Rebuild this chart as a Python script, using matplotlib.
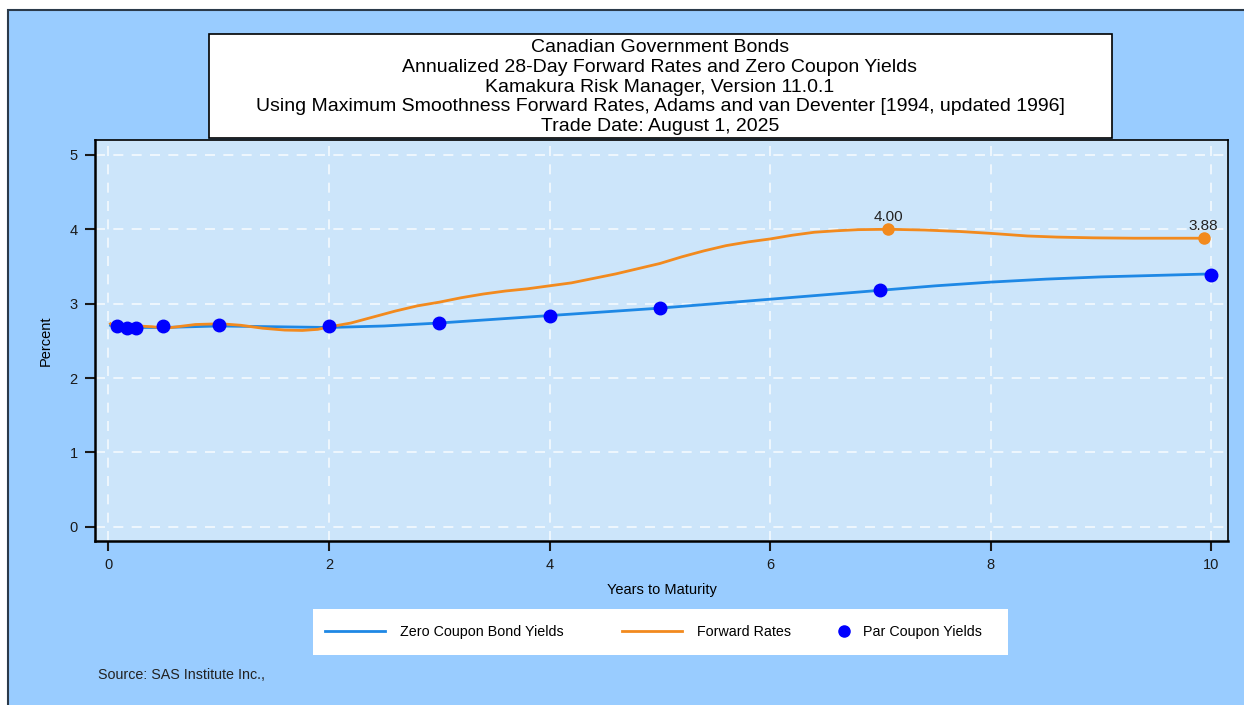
import matplotlib.pyplot as plt
from matplotlib.patches import Rectangle
from matplotlib.lines import Line2D

plt.rcParams['font.family'] = ['Liberation Sans', 'DejaVu Sans']

# values
zero_t = [0.02, 0.1, 0.25, 0.5, 0.75, 1.0, 1.5, 2.0, 2.5, 3.0, 3.5, 4.0, 4.5,
          5.0, 5.5, 6.0, 6.5, 7.0, 7.5, 8.0, 8.5, 9.0, 9.5, 10.0]
zero_y = [2.71, 2.69, 2.68, 2.68, 2.69, 2.70, 2.69, 2.68, 2.70, 2.74, 2.79, 2.84, 2.89,
          2.94, 3.00, 3.06, 3.12, 3.18, 3.24, 3.29, 3.33, 3.36, 3.38, 3.40]

fwd_t = [0.02, 0.06, 0.09, 0.15, 0.27, 0.4, 0.52, 0.79, 1.02, 1.2, 1.4, 1.6, 1.76, 1.9,
         2.01, 2.2, 2.4, 2.6, 2.8, 3.0, 3.2, 3.4, 3.6, 3.8, 4.0, 4.2, 4.4, 4.6, 4.8,
         5.0, 5.2, 5.4, 5.6, 5.8, 6.0, 6.2, 6.4, 6.6, 6.8, 7.07, 7.4, 7.72, 8.0, 8.33,
         8.6, 8.93, 9.3, 9.6, 9.93]
fwd_y = [2.73, 2.66, 2.63, 2.66, 2.70, 2.69, 2.67, 2.72, 2.73, 2.71, 2.67, 2.645, 2.64, 2.655,
         2.69, 2.74, 2.82, 2.90, 2.97, 3.02, 3.08, 3.13, 3.17, 3.20, 3.24, 3.28, 3.34, 3.40, 3.47,
         3.54, 3.63, 3.71, 3.78, 3.83, 3.87, 3.92, 3.96, 3.98, 3.995, 4.00, 3.99, 3.97, 3.945, 3.91,
         3.895, 3.885, 3.88, 3.88, 3.88]

par_t = [0.083, 0.167, 0.25, 0.5, 1, 2, 3, 4, 5, 7, 10]
par_y = [2.70, 2.67, 2.67, 2.70, 2.71, 2.70, 2.74, 2.84, 2.94, 3.19, 3.39]

label_t = [7.07, 9.93]
label_y = [4.00, 3.88]

title_lines = ["Canadian Government Bonds",
               "Annualized 28-Day Forward Rates and Zero Coupon Yields",
               "Kamakura Risk Manager, Version 11.0.1",
               "Using Maximum Smoothness Forward Rates, Adams and van Deventer [1994, updated 1996]",
               "Trade Date: August 1, 2025"]

W, H = 1244, 705
FS = 10.3
fig = plt.figure(figsize=(W / 100, H / 100), dpi=100)
fig.patch.set_facecolor('white')

# outer blue frame
fig.add_artist(Rectangle((8 / W, -0.01), 1.0, 1 - 10 / H + 0.01, transform=fig.transFigure,
                         facecolor='#99CCFF', edgecolor='#2b3a4a', linewidth=1.5, zorder=0))

ax = fig.add_axes([95 / W, 1 - 541 / H, (1228 - 95) / W, (541 - 140) / H])
ax.set_facecolor('#CCE5FA')
ax.set_xlim(-0.12, 10.15)
ax.set_ylim(-0.19, 5.2)
ax.set_xticks([0, 2, 4, 6, 8, 10])
ax.set_yticks([0, 1, 2, 3, 4, 5])
ax.grid(True, color='white', linestyle=(0, (6, 5)), linewidth=1.2, alpha=0.8)
ax.set_axisbelow(True)
for s in ax.spines.values():
    s.set_color('black')
    s.set_linewidth(1.2)
ax.spines['left'].set_linewidth(1.8)
ax.spines['bottom'].set_linewidth(1.8)
ax.tick_params(direction='out', length=7, width=1.5, pad=5.5, labelsize=10.5, colors='#1a1a1a')

ax.plot(zero_t, zero_y, color='#1E88E5', linewidth=2, zorder=3)
ax.plot(fwd_t, fwd_y, color='#F28A1E', linewidth=2, zorder=3)
ax.plot(par_t, par_y, 'o', color='#0000FF', markersize=9, zorder=5)
ax.plot(label_t, label_y, 'o', color='#F28A1E', markersize=8, zorder=4)
for t, y in zip(label_t, label_y):
    ax.annotate('%.2f' % y, (t, y), xytext=(0, 3.5), textcoords='offset points',
                ha='center', va='bottom', fontsize=11, color='#222222')

ax.set_xlabel('Years to Maturity', fontsize=10.5, labelpad=8)
ax.set_ylabel('Percent', fontsize=10.5, labelpad=12)

# title box
fig.add_artist(Rectangle((209 / W, 1 - 138 / H), (1112 - 209) / W, (138 - 34) / H,
                         transform=fig.transFigure, facecolor='white', edgecolor='black',
                         linewidth=1.2, zorder=2))
fig.text(660 / W, 1 - 87 / H, "\n".join(title_lines), ha='center', va='center',
         fontsize=14, linespacing=1.23, zorder=3)

# legend box
fig.add_artist(Rectangle((313 / W, 1 - 655 / H), (1008 - 313) / W, 46 / H,
                         transform=fig.transFigure, facecolor='white', edgecolor='none',
                         zorder=2))
line_handles = [Line2D([], [], color='#1E88E5', linewidth=2),
                Line2D([], [], color='#F28A1E', linewidth=2)]
leg1 = fig.legend(line_handles, ['Zero Coupon Bond Yields', 'Forward Rates'],
                  loc='center left', bbox_to_anchor=(325 / W, 1 - 632 / H), ncol=2,
                  frameon=False, fontsize=FS, handlelength=4.2, handletextpad=1.05,
                  columnspacing=4.1, borderpad=0, borderaxespad=0)
leg1.set_zorder(3)
dot_handle = [Line2D([], [], color='#0000FF', marker='o', linestyle='none', markersize=8)]
leg2 = fig.legend(dot_handle, ['Par Coupon Yields'], loc='center left',
                  bbox_to_anchor=(837 / W, 1 - 632 / H), frameon=False, fontsize=FS,
                  handlelength=1.0, handletextpad=0.82, borderpad=0, borderaxespad=0)
leg2.set_zorder(3)

fig.text(98 / W, 1 - 675 / H, 'Source: SAS Institute Inc.,', fontsize=FS,
         ha='left', va='center', color='#222222')

fig.savefig('out.png', dpi=100, facecolor=fig.get_facecolor())
